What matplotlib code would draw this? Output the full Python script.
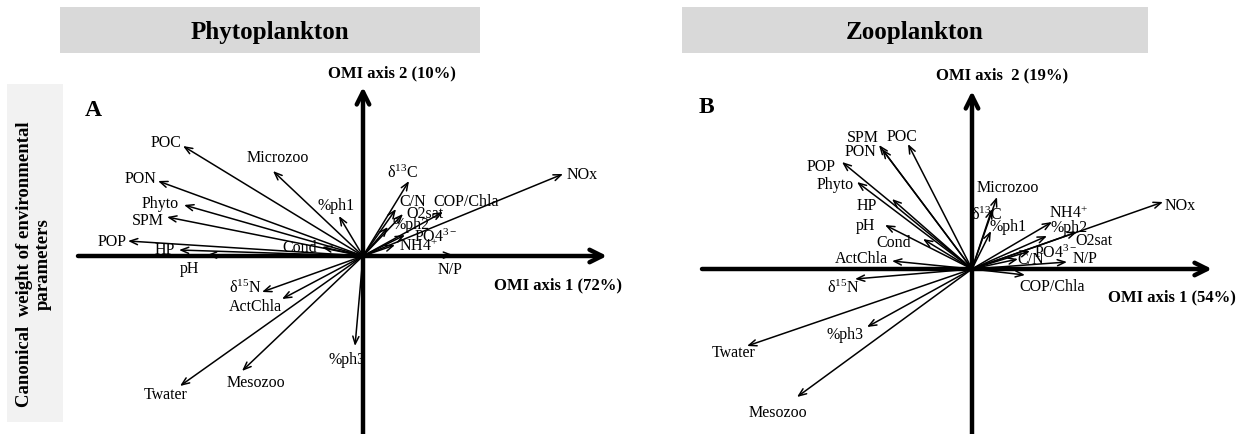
import numpy as np
import matplotlib
matplotlib.use('Agg')
import matplotlib.pyplot as plt
from matplotlib.patches import Rectangle

plt.rcParams['font.family'] = ['Liberation Serif', 'DejaVu Serif']
plt.rcParams['mathtext.fontset'] = 'custom'
plt.rcParams['mathtext.rm'] = 'Liberation Serif'
plt.rcParams['mathtext.it'] = 'Liberation Serif:italic'
plt.rcParams['mathtext.bf'] = 'Liberation Serif:bold'

# Canonical weights (axis 1, axis 2)
phyto_vars = ['POC', 'PON', 'Phyto', 'SPM', 'POP', 'HP', 'pH', 'Cond',
              'Microzoo', '%ph1', r'δ$^{15}$N', 'ActChla', 'Twater', 'Mesozoo',
              '%ph3', r'δ$^{13}$C', 'C/N', 'O2sat', 'COP/Chla', '%ph2',
              r'PO4$^{3-}$', r'NH4$^{+}$', 'N/P', 'NOx']
phyto_x = [-1.80, -2.05, -1.79, -1.96, -2.35, -1.84, -1.56, -0.41,
           -0.90, -0.24, -1.01, -0.81, -1.83, -1.21,
           -0.08, 0.46, 0.33, 0.40, 0.80, 0.25,
           0.42, 0.32, 0.90, 2.00]
phyto_y = [1.10, 0.75, 0.51, 0.39, 0.15, 0.06, 0.01, 0.09,
           0.85, 0.40, -0.36, -0.43, -1.30, -1.15,
           -0.90, 0.75, 0.47, 0.42, 0.44, 0.29,
           0.21, 0.11, 0.01, 0.82]

zoo_vars = ['POC', 'SPM', 'PON', 'POP', 'Phyto', 'HP', 'pH', 'Cond',
            'ActChla', r'δ$^{15}$N', 'Twater', '%ph3', 'Mesozoo', 'Microzoo',
            r'δ$^{13}$C', '%ph1', r'NH4$^{+}$', '%ph2', 'O2sat', 'NOx',
            r'PO4$^{3-}$', 'C/N', 'N/P', 'COP/Chla']
zoo_x = [-0.64, -0.93, -0.90, -1.30, -1.15, -0.80, -0.87, -0.49,
         -0.80, -1.17, -2.25, -1.05, -1.75, 0.25,
         0.20, 0.19, 0.80, 0.75, 1.05, 1.91,
         0.58, 0.46, 0.95, 0.53]
zoo_y = [1.25, 1.24, 1.20, 1.07, 0.87, 0.70, 0.44, 0.30,
         0.08, -0.10, -0.77, -0.58, -1.28, 0.72,
         0.60, 0.38, 0.47, 0.33, 0.37, 0.67,
         0.18, 0.10, 0.07, -0.06]

# label offsets from the arrow tip (pixels, x right / y up)
phyto_off = [(-17, 4), (-17, 3), (-24, 2), (-19, -3), (-16, 0), (-14, 1), (-17, -13), (-22, 0),
             (5, 14), (-3, 11), (-17, 5), (-27, -7), (-14, -8), (14, -11),
             (-8, -13), (-6, 9), (17, 8), (22, 1), (23, 11), (23, 3),
             (31, -1), (23, -1), (-3, -14), (19, 0)]
zoo_off = [(-6, 8), (-16, 8), (-21, -2), (-21, -4), (-22, -2), (-25, -6), (-19, 0), (-29, -3),
           (-31, 3), (-12, -8), (-13, -6), (-22, -7), (-19, -15), (11, 10),
           (-5, -5), (17, 5), (16, 9), (22, 9), (17, -8), (17, -3),
           (26, -1), (13, 0), (18, 4), (27, -11)]

W, H = 1250, 435
fig = plt.figure(figsize=(12.5, 4.35), dpi=100)


def draw_panel(rect_px, origin_px, xspan, yspan, names, xs, ys, offs,
               letter, letter_xy, lab2, lab2_xy, lab1, lab1_xy):
    x0, y0, x1, y1 = rect_px  # pixel box (y down)
    ox, oy = origin_px
    ax = fig.add_axes([x0 / W, (H - y1) / H, (x1 - x0) / W, (y1 - y0) / H])
    ax.set_xlim((x0 - ox) / 100, (x1 - ox) / 100)
    ax.set_ylim((oy - y1) / 100, (oy - y0) / 100)
    ax.axis('off')
    # main axes
    ax.annotate('', xy=(xspan[1], 0), xytext=(xspan[0], 0),
                arrowprops=dict(arrowstyle='->,head_length=0.9,head_width=0.45',
                                lw=3.2, color='black', shrinkA=0, shrinkB=0))
    ax.annotate('', xy=(0, yspan[1]), xytext=(0, yspan[0]),
                arrowprops=dict(arrowstyle='->,head_length=0.9,head_width=0.45',
                                lw=3.2, color='black', shrinkA=0, shrinkB=0))
    for n, x, y, o in zip(names, xs, ys, offs):
        ax.annotate('', xy=(x, y), xytext=(0, 0),
                    arrowprops=dict(arrowstyle='->,head_length=0.55,head_width=0.22',
                                    lw=1.1, color='black', shrinkA=0, shrinkB=0))
        ax.annotate(n, xy=(x, y), xytext=o, textcoords='offset pixels',
                    ha='center', va='center', fontsize=11.5)
    ax.text(letter_xy[0], letter_xy[1], letter, fontsize=17, fontweight='bold',
            ha='center', va='center')
    ax.text(lab2_xy[0], lab2_xy[1], lab2, fontsize=12, fontweight='bold',
            ha='center', va='center')
    ax.text(lab1_xy[0], lab1_xy[1], lab1, fontsize=12, fontweight='bold',
            ha='center', va='center')
    return ax


draw_panel((60, 60, 660, 435), (363, 257), (-2.85, 2.44), (-1.80, 1.69),
           phyto_vars, phyto_x, phyto_y, phyto_off,
           'A', (-2.70, 1.47), 'OMI axis 2 (10%)', (0.29, 1.84),
           'OMI axis 1 (72%)', (1.95, -0.28))
draw_panel((680, 60, 1250, 435), (972, 270), (-2.70, 2.40), (-1.66, 1.78),
           zoo_vars, zoo_x, zoo_y, zoo_off,
           'B', (-2.66, 1.63), 'OMI axis  2 (19%)', (0.30, 1.95),
           'OMI axis 1 (54%)', (2.00, -0.27))

# header bars
for (bx0, bx1, title) in [(60, 480, 'Phytoplankton'), (682, 1148, 'Zooplankton')]:
    fig.patches.append(Rectangle((bx0 / W, (H - 54) / H), (bx1 - bx0) / W, 46 / H,
                                 transform=fig.transFigure, facecolor='#d9d9d9',
                                 edgecolor='none', zorder=-1))
    fig.text((bx0 + bx1) / 2 / W, (H - 32) / H, title, fontsize=18,
             fontweight='bold', ha='center', va='center')

# side label
fig.patches.append(Rectangle((7 / W, (H - 423) / H), 56 / W, 338 / H,
                             transform=fig.transFigure, facecolor='#f2f2f2',
                             edgecolor='none', zorder=-1))
fig.text(34 / W, (H - 264) / H, 'Canonical  weight of environmental\nparameters',
         rotation=90, fontsize=13.5, fontweight='bold', ha='center', va='center',
         linespacing=1.2)

fig.savefig('out.png', dpi=100)
